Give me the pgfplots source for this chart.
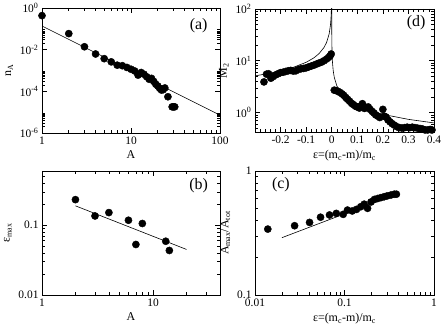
\documentclass[border=0pt]{standalone}
\usepackage{fontspec}
\setmainfont{Liberation Serif}
\usepackage{pgfplots}
\pgfplotsset{compat=1.18}

\pgfplotsset{
  gracebox/.style={
    scale only axis,
    anchor=south west,
    clip mode=individual,
    axis line style={line width=0.8bp},
    every tick/.style={black, line width=0.6bp},
    major tick length=5bp,
    minor tick length=3bp,
    tick label style={font=\fontsize{11.5}{12}\selectfont},
    label style={font=\fontsize{12}{13}\selectfont},
    /pgf/number format/assume math mode=true,
  },
  dots/.style={only marks, mark=*, mark size=3.6bp, black},
  fitline/.style={no marks, black, line width=0.6bp},
}
\tikzset{panel/.style={font=\fontsize{16}{16}\selectfont}}

\begin{document}
\begin{tikzpicture}
\useasboundingbox (0bp,0bp) rectangle (442bp,327bp);

% (a) cluster size distribution
\begin{axis}[gracebox, at={(42bp,194bp)}, width=178bp, height=125bp,
    xmode=log, ymode=log, xmin=1, xmax=100, ymin=1e-6, ymax=1,
    xtick={1,10,100}, xticklabels={1,10,100},
    minor xtick={2,3,4,5,6,7,8,9,20,30,40,50,60,70,80,90},
    ytick={1e-6,1e-4,1e-2,1},
    yticklabels={10\textsuperscript{-6},10\textsuperscript{-4},10\textsuperscript{-2},10\textsuperscript{0}},
    minor ytick={2e-6,3e-6,4e-6,5e-6,6e-6,7e-6,8e-6,9e-6,
                 2e-4,3e-4,4e-4,5e-4,6e-4,7e-4,8e-4,9e-4,
                 2e-2,3e-2,4e-2,5e-2,6e-2,7e-2,8e-2,9e-2},
    xlabel={A}, ylabel={n\textsubscript{A}}]
\addplot[fitline] coordinates {(1,0.137) (100,7.2e-6)};
\addplot[dots] coordinates {
  (1,0.43) (2,0.059) (3,0.0138) (4,0.0062) (5,0.0037) (6,0.0026) (7,0.0018)
  (8,0.0017) (9,0.0014) (10,0.00115) (11,0.00095) (12,0.0006) (13,0.0008)
  (14,0.00066) (15,0.0005) (16,0.00038) (17,0.00042) (18,0.0003) (19,0.00022)
  (20,0.00018) (21,0.00014) (22,0.000115) (23,0.00012) (24,0.000145)
  (26,0.000055) (29,0.000018) (30,0.000018) (31,0.000018)
};
\node[panel] at (rel axis cs:0.88,0.856) {(a)};
\end{axis}

% (d) second moment
\begin{axis}[gracebox, at={(255bp,195bp)}, width=179bp, height=123bp,
    ymode=log, xmin=-0.3, xmax=0.4, ymin=0.42, ymax=100,
    xtick={-0.3,-0.2,-0.1,0,0.1,0.2,0.3,0.4},
    xticklabels={,-0.2,-0.1,0,0.1,0.2,0.3,0.4},
    minor x tick num=4,
    ytick={1,10,100},
    yticklabels={10\textsuperscript{0},10\textsuperscript{1},10\textsuperscript{2}},
    minor ytick={0.5,0.6,0.7,0.8,0.9,2,3,4,5,6,7,8,9,20,30,40,50,60,70,80,90},
    xlabel={ε=(m\textsubscript{c}-m)/m\textsubscript{c}}, ylabel={M\textsubscript{2}}]
\addplot[fitline] coordinates {
  (-0.3,5.10) (-0.25,5.64) (-0.2,6.37) (-0.15,7.47) (-0.1,9.33) (-0.07,11.35)
  (-0.05,13.66) (-0.03,18.1) (-0.02,22.6) (-0.01,33.1) (-0.005,48.5)
  (-0.003,64.2) (-0.002,80.3) (-0.001,117.6)
};
\addplot[fitline] coordinates {
  (0.00003,117) (0.00005,88) (0.0001,60.3) (0.0003,32.9) (0.001,17.0)
  (0.003,9.28) (0.006,6.33) (0.01,4.78) (0.02,3.27) (0.04,2.23) (0.07,1.64)
  (0.1,1.35) (0.15,1.08) (0.2,0.92) (0.3,0.737) (0.4,0.629)
};
\addplot[dots] coordinates {
  (-0.265,3.9) (-0.255,5.5) (-0.247,5.6) (-0.238,4.6) (-0.23,4.9) (-0.22,5.3)
  (-0.21,5.6) (-0.2,5.9) (-0.19,6.0) (-0.18,6.2) (-0.17,6.4) (-0.16,6.5)
  (-0.15,6.3) (-0.14,6.4) (-0.13,6.8) (-0.12,7.0) (-0.11,7.1) (-0.1,7.3)
  (-0.09,7.6) (-0.08,7.9) (-0.07,8.2) (-0.06,8.6) (-0.05,9.0) (-0.04,9.4)
  (-0.03,10.0) (-0.02,10.8) (-0.012,11.6) (-0.006,12.5) (-0.002,13.5)
};
\addplot[dots] coordinates {
  (0.01,2.7) (0.018,2.65) (0.025,2.55) (0.032,2.45) (0.04,2.3) (0.047,2.15)
  (0.055,1.95) (0.062,1.8) (0.07,1.65) (0.078,1.5) (0.085,1.42) (0.093,1.32)
  (0.1,1.28) (0.108,1.22) (0.115,1.35) (0.12,1.48) (0.128,1.2) (0.135,1.25)
  (0.143,1.28) (0.15,1.15) (0.158,1.05) (0.165,0.98) (0.172,0.9) (0.18,0.85)
  (0.188,0.8) (0.2,1.15) (0.205,0.85) (0.212,0.82) (0.22,0.72) (0.228,0.66)
  (0.236,0.61) (0.245,0.57) (0.255,0.53) (0.265,0.51) (0.275,0.5) (0.285,0.51)
  (0.295,0.52) (0.305,0.51) (0.315,0.52) (0.325,0.51) (0.335,0.5) (0.345,0.49)
  (0.355,0.48) (0.365,0.46) (0.375,0.46) (0.385,0.47) (0.392,0.46)
};
\node[panel] at (rel axis cs:0.9,0.886) {(d)};
\end{axis}

% (b) maximum epsilon vs A
\begin{axis}[gracebox, at={(42bp,32bp)}, width=178bp, height=124bp,
    xmode=log, ymode=log, xmin=1, xmax=40, ymin=0.01, ymax=0.6,
    xtick={1,10}, xticklabels={1,10},
    minor xtick={2,3,4,5,6,7,8,9,20,30},
    ytick={0.01,0.1}, yticklabels={0.01,0.1},
    minor ytick={0.02,0.03,0.04,0.05,0.06,0.07,0.08,0.09,0.2,0.3,0.4,0.5},
    xlabel={A}, ylabel={ε\textsubscript{max}}]
\addplot[fitline] coordinates {(2,0.19) (20,0.045)};
\addplot[dots] coordinates {
  (2,0.233) (3,0.136) (4,0.152) (6,0.118) (7,0.053) (8,0.106) (13,0.059) (14,0.0435)
};
\node[panel] at (rel axis cs:0.88,0.88) {(b)};
\end{axis}

% (c) largest cluster fraction
\begin{axis}[gracebox, at={(255bp,32bp)}, width=179bp, height=124bp,
    xmode=log, ymode=log, xmin=0.01, xmax=1, ymin=0.1, ymax=1,
    xtick={0.01,0.1,1}, xticklabels={0.01,0.1,1},
    minor xtick={0.02,0.03,0.04,0.05,0.06,0.07,0.08,0.09,0.2,0.3,0.4,0.5,0.6,0.7,0.8,0.9},
    ytick={0.1,1}, yticklabels={0.1,1},
    minor ytick={0.2,0.3,0.4,0.5,0.6,0.7,0.8,0.9},
    xlabel={ε=(m\textsubscript{c}-m)/m\textsubscript{c}},
    ylabel={A\textsubscript{max}/A\textsubscript{tot}}]
\addplot[fitline] coordinates {(0.02,0.29) (0.4,0.66)};
\addplot[dots] coordinates {
  (0.0139,0.34) (0.0277,0.362) (0.0407,0.385) (0.054,0.424) (0.068,0.442)
  (0.081,0.455) (0.0967,0.447) (0.108,0.484) (0.122,0.476) (0.136,0.49)
  (0.152,0.515) (0.166,0.54) (0.181,0.50) (0.198,0.563) (0.216,0.59)
  (0.235,0.60) (0.255,0.61) (0.277,0.62) (0.30,0.63) (0.33,0.64)
  (0.36,0.65) (0.38,0.65)
};
\node[panel] at (rel axis cs:0.145,0.887) {(c)};
\end{axis}
\end{tikzpicture}
\end{document}
